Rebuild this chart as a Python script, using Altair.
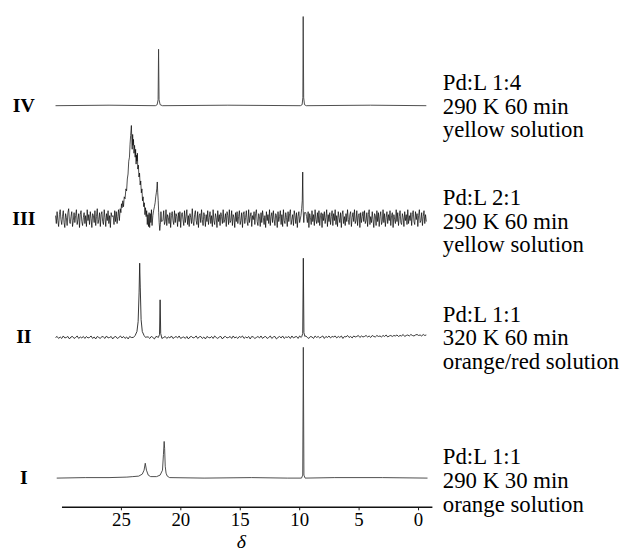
import altair as alt
import pandas as pd

# ---------------- data ----------------
tick_values = [25, 20, 15, 10, 5, 0]

# Spectrum IV : explicit points (delta, intensity above its baseline)
IV_d = [30.5, 26.0, 22.1, 21.95, 21.87, 21.83, 21.79, 21.7, 21.5, 16.0,
        9.9, 9.75, 9.69, 9.66, 9.62, 9.55, 9.4, 4.0, -0.7]
IV_v = [0, 0.5, 0, 1, 6, 57, 6, 1, 0, 0.5,
        0, 1, 8, 90, 8, 1, 0, 0.5, 0]

# Spectrum III : noisy baseline sampled every 0.065 ppm from 30.5 ppm
III_noise = [
    3, -5, 7, -2, -8, 4, 9, -1, -6, 2, 8, -4, -9, 5, 1, -7, 6, 10, -3, -5,
    2, 7, -8, -2, 6, -4, 3, 9, -6, -1, 5, -9, 4, 8, -3, -7, 1, 6, -5, 3,
    -8, 9, -2, 4, -6, 7, 0, -9, 5, 3, -4, 8, -7, 2, 10, -5, -1, 6, -8, 4,
    7, -3, -6, 9, 1, -8, 5, -2, 8, -5, 3, -9, 6, 2, -4, 7, -7, 4, 9, -1,
    -6, 3, 8, -4, -9, 6, 2, -3, 7, -8, 5, 1, -6, 9, -2, 4, -5, 8, -9, 3,
    6, -1, -7, 4, 8, -5, 2, 10, -6, -3, 7, -8, 1, 5, -4, 9, -7, 3, -2, 6,
    -9, 5, 7, -3, 1, -6, 8, -4, 4, 9, -8, 2, -5, 6, -1, 7, -9, 3, 5, -2,
    8, -6, -3, 9, -7, 4, 1, -5, 6, -9, 3, 7, -2, -6, 8, -4, 5, 2, -8, 6,
    -3, 7, -9, 4, 6, -1, -7, 8, -4, 2, 9, -6, 3, -8, 5, 1, -5, 10, -3, -7,
    4, 8, -2, -6, 7, -9, 3, 5, -4, 9, -1, -7, 6, 2, -8, 4, -3, 8, -6, 1,
    7, -5, 3, -8, 9, -2, -6, 5, 1, -9, 8, -3, 4, -7, 6, 2, -5, 9, -4, -1,
    5, -8, 7, 3, -6, 9, -4, -2, 8, -7, 4, 1, -9, 6, -3, 7, -5, 2, 8, -6,
    -2, 6, -9, 4, 7, -5, 1, 8, -3, -7, 9, -4, 2, 6, -8, 3, -1, 7, -6, 5,
    9, -3, -7, 5, 2, -8, 6, -4, 8, 1, -6, 3, -9, 7, -2, 4, -5, 9, -7, 2,
    6, -4, 8, -1, -7, 5, 3, -9, 7, -3, 2, 8, -6, 4, -8, 9, -2, -5, 6, 1,
    -8, 7, -3, 5, 9, -6, -1, 4, -7, 8, 3, -5, 6, -9, 2, 7, -4, -2, 8, -6,
    3, 9, -5, -8, 6, 2, -4, 7, -9, 5, 1, -6, 8, -3, 4, -7, 9, -1, -5, 6,
    -4, 8, -7, 3, 6, -9, 5, -2, 7, -5, 1, 9, -8, 4, -3, 6, -6, 2, 8, -7,
    5, -2, 9, -6, 3, -8, 7, 1, -4, 6, -9, 4, 8, -5, 2, -7, 5, -3, 9, -1,
    -6, 4, 7, -8, 1, 6, -3, 9, -5, -2, 8, -7, 3, 5, -9, 6, -4, 2, 7, -3,
    8, -5, -2, 6, -8, 4, 9, -6, 2, -4, 7, -1, -9, 5, 3, -7, 8, -3, 6, -8,
    2, 7, -6, -3, 9, -4, 5, -8, 1, 7, -5, 4, -2, 8, -7, 3, 6, -9, 4, -1,
    -5, 9, -3, 6, -7, 2, 8, -4, -6, 5, 1, -8, 7, -2, 4, -6, 9, -5, 3, -2,
    6, -7, 4, 8, -3, -6, 7, -1, 5, -8, 3, 9, -4, -2, 6, -7, 2, 8, -5, 4,
    -3,
]
III_start, III_step = 30.5, 0.065
III_windows = [(21.5, 25.7), (9.5, 9.9)]
III_pk_d = [25.65, 25.58, 25.52, 25.45, 25.39, 25.32, 25.26, 25.2, 25.13, 25.06,
            25.0, 24.95, 24.9, 24.84, 24.78, 24.72, 24.65, 24.58, 24.52, 24.46,
            24.4, 24.34, 24.28, 24.23, 24.18, 24.12, 24.08, 24.05, 24.01, 23.98,
            23.94, 23.9, 23.85, 23.8, 23.76, 23.72, 23.68, 23.65, 23.61, 23.58,
            23.53, 23.48, 23.43, 23.38, 23.33, 23.28, 23.23, 23.18, 23.13, 23.08,
            23.03, 22.98, 22.93, 22.88, 22.83, 22.78, 22.73, 22.68, 22.63, 22.58,
            22.53, 22.48, 22.43, 22.38, 22.31, 22.25, 22.18, 22.12, 22.07, 22.02,
            21.98, 21.94, 21.9, 21.86, 21.82, 21.78, 21.73, 21.68, 21.63, 21.58,
            9.85, 9.79, 9.74, 9.70, 9.66, 9.61, 9.56]
III_pk_v = [3, -6, 8, -3, 7, -5, 2, 9, -2, 10,
            6, 15, 11, 18, 12, 22, 20, 30, 28, 40,
            45, 58, 62, 75, 84, 94, 80, 70, 85, 74,
            80, 66, 74, 62, 70, 55, 64, 58, 66, 50,
            54, 42, 46, 34, 38, 26, 30, 18, 22, 12,
            16, 4, 11, 2, 8, -6, 4, -8, 6, -9,
            5, -4, 9, -7, 3, 8, 12, 16, 22, 26,
            30, 37, 26, 18, 6, -4, -12, -6, 7, -3,
            3, 10, 18, 47, 8, -4, 6]

# Spectrum II : faint noise every 0.13 ppm from 30.5 ppm
II_noise = [
    0, 1, -1, 0.5, -1, 1.5, -0.5, 0, 1, -1.5, 0.5, 1, -1, 0, 1.5, -1, 0.5, -0.5, 1, -1,
    1, -0.5, 0, 1.5, -1, 0.5, -1.5, 1, 0, -1, 1, 0.5, -1, 1.5, -0.5, 0, 1, -1.5, 0.5, 1,
    -1, 0, 1.5, -0.5, 1, -1, 0.5, -1.5, 1, 0, -0.5, 1.5, -1, 0.5, 1, -1, 0, 1, -1.5, 0.5,
    0.5, -1, 1, 0, -1.5, 1, 0.5, -0.5, 1.5, -1, 0, 1, -1, 0.5, -0.5, 1.5, -1, 0, 1, -0.5,
    1.5, -1, 0, 0.5, -1, 1, -1.5, 0.5, 1, -0.5, 0, 1.5, -1, 0.5, 1, -1, 0.5, -1.5, 1, 0,
    -0.5, 1, -1, 1.5, 0, -1, 0.5, 1, -1.5, 0.5, 1, -0.5, 0, 1, -1, 1.5, -0.5, 0.5, -1, 1,
    0, 1.5, -1, 0.5, -0.5, 1, -1.5, 1, 0.5, -1, 0, 1, -0.5, 1.5, -1, 0.5, 1, -1, 0, 1.5,
    -1, 0.5, 1, -1.5, 0, 1, -0.5, 1.5, -1, 0.5, 0, 1, -1, 1.5, -0.5, 0.5, 1, -1, 1.5, 0,
    1, -0.5, 1.5, 0, -1, 1, 0.5, -1, 1.5, 0, 1, -0.5, 0.5, 1.5, -1, 1, 0, 1.5, -0.5, 1,
    0.5, 1.5, -0.5, 1, 0, 1.5, -1, 1, 0.5, 2, 0, 1, -0.5, 1.5, 0.5, 1, 2, 0, 1.5, 0.5,
    1, 2, 0.5, 1.5, 0, 2, 1, 0.5, 2, 1, 1.5, 0.5, 2, 1, 2.5, 0.5, 1.5, 2, 1, 2,
    1.5, 2.5, 1, 2, 1.5, 3, 1, 2, 2.5, 1.5, 3, 2, 1.5, 2.5, 3, 2, 2.5, 1.5, 3, 2,
    2.5,
]
II_start, II_step = 30.5, 0.13
II_windows = [(22.9, 24.0), (21.5, 21.9), (9.5, 9.8)]
II_pk_d = [23.95, 23.8, 23.65, 23.55, 23.47, 23.42, 23.37, 23.3, 23.2, 23.05, 22.92,
           21.85, 21.75, 21.7, 21.65, 21.55,
           9.78, 9.7, 9.65, 9.6, 9.52]
II_pk_v = [0, 2, 6, 16, 45, 75, 50, 18, 6, 2, 0,
           0, 3, 38, 4, -1,
           1, 4, 80, 5, 1]

# Spectrum I : explicit points
I_d = [30.4, 28.0, 26.0, 24.5, 24.0, 23.5, 23.2, 23.05, 22.95, 22.85,
       22.7, 22.5, 22.0, 21.7, 21.5, 21.42, 21.36, 21.32, 21.27, 21.2,
       21.1, 20.9, 18.0, 14.0, 11.0, 9.8, 9.7, 9.65, 9.6, 9.5,
       7.0, 3.0, -0.8]
I_v = [0, 0.5, 0.5, 1, 1.5, 2, 4, 8, 15, 8,
       3, 1.5, 1.5, 3, 8, 24, 37, 30, 12, 5,
       2, 0.5, 0, 0.5, 0, 0, 3, 132, 3, 0,
       0.5, 0.5, 0]

spec_names = ["IV", "III", "II", "I"]
spec_text = {
    "IV": ["Pd:L 1:4", "290 K 60 min", "yellow solution"],
    "III": ["Pd:L 2:1", "290 K 60 min", "yellow solution"],
    "II": ["Pd:L 1:1", "320 K 60 min", "orange/red solution"],
    "I": ["Pd:L 1:1", "290 K 30 min", "orange solution"],
}

# ---------------- layout (vertical stacking offsets, in px units) ----------------
offset = {"IV": 405, "III": 291, "II": 171, "I": 29}
text_shift = {"IV": -1, "III": -3, "II": -1, "I": -3}
line_gap = 24


def grid_series(noise, start, step, pk_d, pk_v, windows):
    rows = []
    for i, v in enumerate(noise):
        d = round(start - step * i, 4)
        if any(lo <= d <= hi for lo, hi in windows):
            continue
        rows.append((d, v))
    rows += list(zip(pk_d, pk_v))
    rows.sort(key=lambda r: -r[0])
    return rows


series = {
    "IV": list(zip(IV_d, IV_v)),
    "III": grid_series(III_noise, III_start, III_step, III_pk_d, III_pk_v, III_windows),
    "II": grid_series(II_noise, II_start, II_step, II_pk_d, II_pk_v, II_windows),
    "I": list(zip(I_d, I_v)),
}

line_rows = []
for name, pts in series.items():
    for k, (d, v) in enumerate(pts):
        line_rows.append({"spec": name, "delta": d, "y": offset[name] + v, "k": k})
lines_df = pd.DataFrame(line_rows)

label_df = pd.DataFrame({"spec": spec_names, "y": [offset[s] for s in spec_names]})

text_rows = []
for s in spec_names:
    for j, t in enumerate(spec_text[s]):
        text_rows.append({"spec": s, "text": t,
                          "y": offset[s] + text_shift[s] + line_gap * (1 - j)})
text_df = pd.DataFrame(text_rows)

# ---------------- chart ----------------
FONT = "Liberation Serif"
xscale = alt.Scale(domain=[30, -1.17], nice=False, zero=False)
yscale = alt.Scale(domain=[0, 501], nice=False, zero=False)

x_axis = alt.Axis(
    values=tick_values, format="d", grid=False,
    labelFont=FONT, labelFontSize=19, labelColor="black", labelPadding=1,
    domainColor="#111111", domainWidth=1.6, tickColor="#111111", tickSize=3, tickWidth=1,
    title="δ", titleFont=FONT, titleFontSize=20, titleFontStyle="italic",
    titleFontWeight="normal", titleColor="black",
    titleX=181, titleY=35, titleBaseline="middle", titleAlign="center",
)

base_lines = alt.Chart(lines_df).transform_filter(
    (alt.datum.spec == "I") | (alt.datum.spec == "IV")
).mark_line(color="#3a3a3a", strokeWidth=0.9).encode(
    x=alt.X("delta:Q", scale=xscale, axis=x_axis),
    y=alt.Y("y:Q", scale=yscale, axis=None),
    detail="spec:N",
    order="k:Q",
)

line_II = alt.Chart(lines_df).transform_filter(alt.datum.spec == "II").mark_line(
    color="#222222", strokeWidth=0.9
).encode(
    x=alt.X("delta:Q", scale=xscale),
    y=alt.Y("y:Q", scale=yscale),
    order="k:Q",
)

line_III = alt.Chart(lines_df).transform_filter(alt.datum.spec == "III").mark_line(
    color="#000000", strokeWidth=0.7
).encode(
    x=alt.X("delta:Q", scale=xscale),
    y=alt.Y("y:Q", scale=yscale),
    order="k:Q",
)

roman = alt.Chart(label_df).mark_text(
    font=FONT, fontSize=20, fontWeight="bold", color="black", align="center", baseline="middle"
).encode(
    x=alt.value(-38),
    y=alt.Y("y:Q", scale=yscale),
    text="spec:N",
)

notes = alt.Chart(text_df).mark_text(
    font=FONT, fontSize=23, color="black", align="left", baseline="middle"
).encode(
    x=alt.value(385),
    y=alt.Y("y:Q", scale=yscale),
    text="text:N",
)

chart = alt.layer(base_lines, line_II, line_III, roman, notes).properties(
    width=374, height=501,
    padding={"left": 54, "top": 0, "right": 199, "bottom": 45},
    autosize=alt.AutoSizeParams(type="none"),
    background="white",
).configure_view(stroke=None)

chart.save("out.html", embed_options={"renderer": "svg", "actions": False})
